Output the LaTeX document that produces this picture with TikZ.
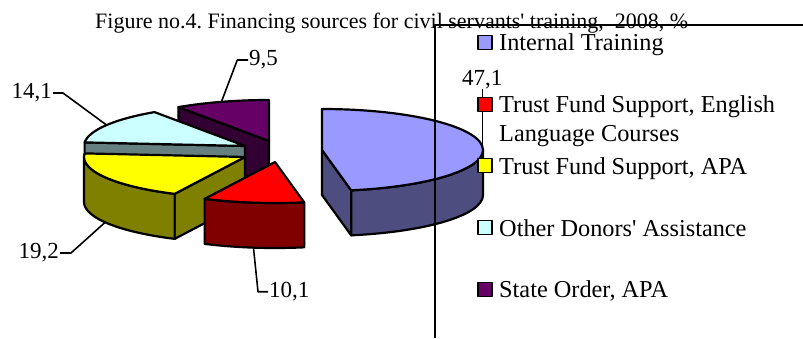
\documentclass[tikz,border=0pt]{standalone}
\usepackage{fontspec}
\setmainfont{Liberation Serif}
\usetikzlibrary{calc}
\frenchspacing
\definecolor{btop}{RGB}{153,153,255}
\definecolor{bside}{RGB}{77,77,128}
\definecolor{rtop}{RGB}{255,0,0}
\definecolor{rside}{RGB}{128,0,0}
\definecolor{ytop}{RGB}{255,255,0}
\definecolor{yside}{RGB}{128,128,0}
\definecolor{ctop}{RGB}{204,255,255}
\definecolor{cside}{RGB}{102,128,128}
\definecolor{ptop}{RGB}{102,0,102}
\definecolor{pside}{RGB}{51,0,51}
\def\rx{161}\def\ry{41}\def\hh{45}
\newcommand\topface[4]{%
  \filldraw[face,#4] (#1) -- ++({\rx*sin(#2)},{\ry*cos(#2)})
    arc[start angle={90-#2}, end angle={90-#3}, x radius=\rx pt, y radius=\ry pt] -- cycle;}
\newcommand\curvedside[4]{%
  \filldraw[face,#4] (#1) ++({\rx*sin(#2)},{\ry*cos(#2)})
    arc[start angle={90-#2}, end angle={90-#3}, x radius=\rx pt, y radius=\ry pt]
    -- ++(0,-\hh)
    arc[start angle={90-#3}, end angle={90-#2}, x radius=\rx pt, y radius=\ry pt] -- cycle;}
\newcommand\radialside[3]{%
  \filldraw[face,#3] (#1) -- ++({\rx*sin(#2)},{\ry*cos(#2)}) -- ++(0,-\hh)
    -- ($(#1)+(0,-\hh)$) -- cycle;}
\begin{document}
\begin{tikzpicture}[x=1pt,y=1pt,line join=round,
  face/.style={draw=black,line width=2.2pt},
  lead/.style={draw=black,line width=1.6pt},
  lab/.style={inner sep=1pt,font=\fontsize{23}{27}\selectfont},
  legtxt/.style={inner sep=0pt,anchor=base west,font=\fontsize{24.3}{29}\selectfont},
  legsq/.style={draw=black,line width=1.6pt,minimum size=14pt,inner sep=0pt}]
\useasboundingbox (0,0) rectangle (803,-338);
% title
\node[inner sep=0pt,anchor=base west,font=\fontsize{22}{26}\selectfont] (title) at (95,-28)
  {Figure no.4. Financing sources for civil servants\textquotesingle\ training,\ \ 2008, \%};
% apexes
\coordinate (Ab) at (322,-150);
\coordinate (Ar) at (275,-162);
\coordinate (Ay) at (245,-157);
\coordinate (Ac) at (245,-146);
\coordinate (Ap) at (269,-141);
% purple
\radialside{Ap}{325.8}{fill=pside}
\topface{Ap}{325.8}{360}{fill=ptop}
% cyan
\radialside{Ac}{275.04}{fill=cside}
\topface{Ac}{275.04}{325.8}{fill=ctop}
% yellow
\radialside{Ay}{205.92}{fill=yside}
\curvedside{Ay}{205.92}{270}{fill=yside}
\topface{Ay}{205.92}{275.04}{fill=ytop}
% red
\curvedside{Ar}{169.56}{205.92}{fill=rside}
\topface{Ar}{169.56}{205.92}{fill=rtop}
% blue
\radialside{Ab}{169.56}{fill=bside}
\curvedside{Ab}{90}{169.56}{fill=bside}
\topface{Ab}{0}{169.56}{fill=btop}
% legend frame
\coordinate (fb) at (435,-338);
\coordinate (fc) at (435,-25);
\coordinate (fr) at (803,-25);
\draw[line width=1.6pt] (fb) -- (fc) -- (fr);
% data labels
\node[lab,anchor=west] (l95) at (248,-60) {9,5};
\node[lab,anchor=east] (l141) at (53,-93) {14,1};
\node[lab,anchor=east] (l192) at (60,-253) {19,2};
\node[lab,anchor=west] (l101) at (268,-291.7) {10,1};
\node[lab,anchor=base west,inner sep=0pt] (l471) at (462,-85) {47,1};
\coordinate (p95) at (221.7,-101);
\coordinate (k95) at (237.3,-60);
\coordinate (p141) at (106.5,-125);
\coordinate (k141) at (63,-93);
\coordinate (p192) at (105.5,-222);
\coordinate (k192) at (71,-253);
\coordinate (p101) at (253.4,-247);
\coordinate (k101) at (258,-291.7);
\coordinate (p471) at (482.5,-150);
\draw[lead] (p95) -- (k95) -- (l95.west);
\draw[lead] (p141) -- (k141) -- (l141.east);
\draw[lead] (p192) -- (k192) -- (l192.east);
\draw[lead] (p101) -- (k101) -- (l101.west);
\draw[lead] (p471) -- (p471 |- l471.south);
% legend
\node[legsq,fill=btop] (s1) at (485,-42.5) {};
\node[legsq,fill=rtop] (s2) at (485,-104.5) {};
\node[legsq,fill=ytop] (s3) at (485,-165.5) {};
\node[legsq,fill=ctop] (s4) at (485,-227.5) {};
\node[legsq,fill=ptop] (s5) at (485,-289.5) {};
\node[legtxt] (t1) at (499,-50) {Internal Training};
\node[legtxt] (t2) at (499,-112) {Trust Fund Support, English};
\node[legtxt] (t2b) at (499,-141.7) {Language Courses};
\node[legtxt] (t3) at (499,-174) {Trust Fund Support, APA};
\node[legtxt] (t4) at (499,-236) {Other Donors\textquotesingle\ Assistance};
\node[legtxt] (t5) at (499,-297.7) {State Order, APA};
\end{tikzpicture}
\end{document}
